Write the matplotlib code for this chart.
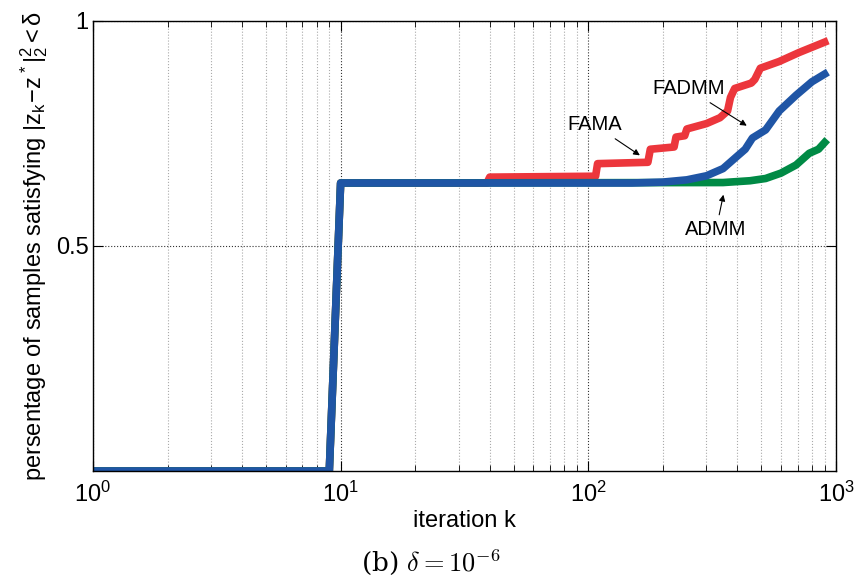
import matplotlib.pyplot as plt
from matplotlib.ticker import LogLocator, NullFormatter

plt.rcParams["font.family"] = "Liberation Sans"
plt.rcParams["mathtext.fontset"] = "custom"
plt.rcParams["mathtext.rm"] = "Liberation Sans"
plt.rcParams["mathtext.it"] = "Liberation Sans"
plt.rcParams["mathtext.sf"] = "Liberation Sans"

# fraction of samples that reached the tolerance, per iteration
fama_k = [1, 9, 10, 39, 40, 107, 109, 174, 178, 222, 226, 245, 250, 300, 340, 365,
          375, 390, 455, 470, 495, 590, 710, 900]
fama_y = [0, 0, 0.64, 0.64, 0.653, 0.655, 0.683, 0.686, 0.715, 0.72, 0.742,
          0.745, 0.76, 0.772, 0.785, 0.80, 0.83, 0.85, 0.862, 0.87, 0.895, 0.91, 0.93, 0.953]

admm_k = [1, 9, 10, 350, 450, 520, 600, 690, 780, 850, 900]
admm_y = [0, 0, 0.64, 0.641, 0.645, 0.65, 0.662, 0.68, 0.706, 0.715, 0.73]

fadmm_k = [1, 9, 10, 150, 200, 250, 300, 350, 400, 430, 460, 520, 590, 690, 800, 900]
fadmm_y = [0, 0, 0.64, 0.64, 0.642, 0.647, 0.656, 0.672, 0.70, 0.715, 0.74,
           0.758, 0.80, 0.835, 0.865, 0.882]

fig = plt.figure(figsize=(8.56, 5.81), dpi=100)
ax = fig.add_axes([0.1086, 0.1893, 0.868, 0.7746])

lw = 5.5
ax.plot(fama_k, fama_y, color="#ec363c", lw=lw, solid_joinstyle="round")
ax.plot(admm_k, admm_y, color="#008a45", lw=lw, solid_joinstyle="round")
ax.plot(fadmm_k, fadmm_y, color="#1f55a5", lw=lw, solid_joinstyle="round")

ax.set_xscale("log")
ax.set_xlim(1, 1000)
ax.set_ylim(0, 1)
ax.set_yticks([0.5, 1])
ax.set_yticklabels(["0.5", "1"])
ax.xaxis.set_minor_locator(LogLocator(base=10, subs=range(2, 10)))
ax.xaxis.set_minor_formatter(NullFormatter())

ax.grid(True, which="major", ls=":", color="#333333", lw=0.8)
ax.grid(True, which="minor", axis="x", ls=":", color="#aaaaaa", lw=0.8)
ax.tick_params(which="both", direction="in", top=True, right=True, labelsize=17)
ax.tick_params(which="major", length=7)
ax.tick_params(which="minor", length=4)
ax.tick_params(axis="x", which="major", pad=8)
ax.tick_params(axis="y", which="major", pad=3)
for s in ax.spines.values():
    s.set_linewidth(1.0)

ax.set_xlabel("iteration k", fontsize=17, labelpad=2)
ax.set_ylabel(r"persentage of samples satisfying $|z_k\!-\!z^*|_2^2 < \delta$",
              fontsize=17, labelpad=4)

arrow = dict(arrowstyle="-|>", color="black", lw=0.8, mutation_scale=9)
ax.annotate("FAMA", xy=(165, 0.698), xytext=(106, 0.769), fontsize=14.5,
            ha="center", va="center", arrowprops=arrow)
ax.annotate("FADMM", xy=(446, 0.764), xytext=(253, 0.849), fontsize=14.5,
            ha="center", va="center", arrowprops=arrow)
ax.annotate("ADMM", xy=(353, 0.62), xytext=(328, 0.536), fontsize=14.5,
            ha="center", va="center", arrowprops=arrow)

# subfigure caption
fig.text(0.503, 0.032, r"(b) $\delta = 10^{-6}$", fontsize=19, ha="center",
         va="center", family="DejaVu Serif", math_fontfamily="cm")

fig.savefig("out.png", dpi=100)
